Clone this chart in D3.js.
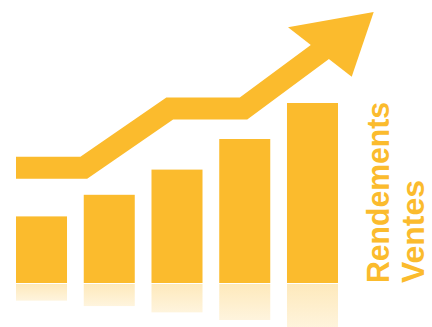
<!DOCTYPE html>
<html>
<head>
<meta charset="utf-8">
<script src="https://cdn.jsdelivr.net/npm/d3@7"></script>
<style>
  html, body { margin: 0; padding: 0; background: #fff; }
  svg { display: block; }
</style>
</head>
<body>
<div id="chart"></div>
<script>
// bars (ventes) and the trend arrow (rendements)
var categories = ["1", "2", "3", "4", "5"];
var ventes = [37, 49, 63, 80, 100];
var rendementsX = [0, 1, 2.27, 3.36, 5.28];
var rendementsY = [64, 64, 97, 97, 150.5];
var labels = ["Rendements", "Ventes"];

var width = 432,
  height = 327,
  color = "#FBBB2D";

var svg = d3.select("#chart").append("svg")
  .attr("width", width)
  .attr("height", height);

var defs = svg.append("defs");
var grad = defs.append("linearGradient")
  .attr("id", "refl")
  .attr("x1", 0).attr("y1", 0).attr("x2", 0).attr("y2", 1);
grad.append("stop").attr("offset", "0%").attr("stop-color", color).attr("stop-opacity", 0.32);
grad.append("stop").attr("offset", "100%").attr("stop-color", color).attr("stop-opacity", 0.16);

var x = d3.scaleBand()
  .domain(categories)
  .range([16, 338])
  .paddingInner(0.247)
  .paddingOuter(0);

// continuous x in "bar step" units, for the arrow
var xt = d3.scaleLinear()
  .domain([0, 1])
  .range([16, 16 + x.step()]);

var y = d3.scaleLinear()
  .domain([0, 100])
  .range([283, 103]);

var g = svg.append("g");

// reflections
g.selectAll("rect.refl")
  .data(ventes)
  .enter().append("rect")
  .attr("class", "refl")
  .attr("x", function(d, i) { return x(categories[i]); })
  .attr("y", y(0) + 1)
  .attr("width", x.bandwidth())
  .attr("height", function(d) { return (y(0) - y(d)) * 0.25; })
  .attr("fill", "url(#refl)");

// bars
g.selectAll("rect.bar")
  .data(ventes)
  .enter().append("rect")
  .attr("class", "bar")
  .attr("x", function(d, i) { return x(categories[i]); })
  .attr("y", function(d) { return y(d); })
  .attr("width", x.bandwidth())
  .attr("height", function(d) { return y(0) - y(d); })
  .attr("fill", color);

// arrow
var pts = rendementsX.map(function(d, i) { return [xt(d), y(rendementsY[i])]; });
var tip = pts[pts.length - 1],
  prev = pts[pts.length - 2];
var dx = tip[0] - prev[0], dy = tip[1] - prev[1];
var len = Math.sqrt(dx * dx + dy * dy);
var u = [dx / len, dy / len],
  n = [-u[1], u[0]];
var headLen = 67, headHalf = 38.8, headSkew = 10.9, shaftW = 22;
var base = [tip[0] - u[0] * headLen, tip[1] - u[1] * headLen];

var shaft = pts.slice(0, -1);
shaft.push([base[0] + u[0] * 12, base[1] + u[1] * 12]);

g.append("path")
  .attr("d", d3.line()(shaft))
  .attr("fill", "none")
  .attr("stroke", color)
  .attr("stroke-width", shaftW)
  .attr("stroke-linejoin", "miter")
  .attr("stroke-miterlimit", 10);

var w1 = [base[0] + headSkew * u[0] + headHalf * n[0], base[1] + headSkew * u[1] + headHalf * n[1]];
var w2 = [base[0] - headSkew * u[0] - headHalf * n[0], base[1] - headSkew * u[1] - headHalf * n[1]];
g.append("path")
  .attr("d", d3.line()([tip, w1, w2]) + "Z")
  .attr("fill", color);

// vertical labels
svg.selectAll("text.lbl")
  .data(labels)
  .enter().append("text")
  .attr("class", "lbl")
  .attr("transform", function(d, i) { return "translate(" + (389 + i * 35) + "," + y(0) + ") rotate(-90)"; })
  .attr("font-family", "Liberation Sans, Arial, sans-serif")
  .attr("font-weight", "bold")
  .attr("font-size", 32)
  .attr("textLength", function(d, i) { return i === 0 ? 181 : 103; })
  .attr("lengthAdjust", "spacingAndGlyphs")
  .attr("fill", color)
  .text(function(d) { return d; });
</script>
</body>
</html>
